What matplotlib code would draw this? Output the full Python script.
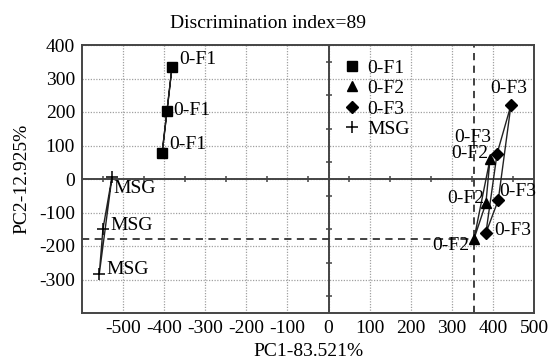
import numpy as np
import matplotlib
matplotlib.use("Agg")
import matplotlib.pyplot as plt

plt.rcParams['font.family'] = ['Liberation Serif', 'DejaVu Serif']
plt.rcParams['font.size'] = 14
plt.rcParams['axes.unicode_minus'] = False

# ---- data (PC1, PC2) ----
f1_x = [-381, -393, -405]
f1_y = [334, 203, 78]
f2_x = [393, 383, 354]
f2_y = [60, -72, -179]
f3_x = [444, 410, 383, 413]
f3_y = [221, 75, -161, -63]
msg_x = [-527, -549, -558]
msg_y = [6, -149, -284]

group_names = ["0-F1", "0-F2", "0-F3", "MSG"]
ref_x = 354
ref_y = -179

title = "Discrimination index=89"
xlabel = "PC1-83.521%"
ylabel = "PC2-12.925%"
xticks = [-500, -400, -300, -200, -100, 0, 100, 200, 300, 400, 500]
yticks = [-300, -200, -100, 0, 100, 200, 300, 400]

FS = 14
W, H = 550, 360
fig = plt.figure(figsize=(W / 100, H / 100), dpi=100)
ax = fig.add_axes([82 / W, 1 - 313 / H, (534 - 82) / W, (313 - 45) / H])
ax.set_xlim(-600, 500)
ax.set_ylim(-400, 400)

# grid
for v in xticks:
    ax.axvline(v, color='#a0a0a0', lw=0.9, ls=(0, (1, 1.2)), zorder=0)
for v in yticks:
    ax.axhline(v, color='#a0a0a0', lw=0.9, ls=(0, (1, 1.2)), zorder=0)

# centre axes
ax.axhline(0, color='#444444', lw=1.4, zorder=1)
ax.axvline(0, color='#444444', lw=1.4, zorder=1)
mx = [v for v in range(-550, 500, 100)]
my = [v for v in range(-350, 400, 100)]
ax.plot(mx, [0] * len(mx), ls='none', marker='|', ms=5, mew=1.1, color='#444444', zorder=1)
ax.plot([0] * len(my), my, ls='none', marker='_', ms=5, mew=1.1, color='#444444', zorder=1)

# reference dashed lines
ax.plot([-600, ref_x], [ref_y, ref_y], color='#333333', lw=1.3, ls=(0, (4, 3)), zorder=2)
ax.axvline(ref_x, color='#333333', lw=1.3, ls=(0, (4, 3)), zorder=2)

def poly(xs, ys, order):
    px = [xs[i] for i in order] + [xs[order[0]]]
    py = [ys[i] for i in order] + [ys[order[0]]]
    ax.plot(px, py, color='#222222', lw=1.0, zorder=3)

poly(f1_x, f1_y, [0, 1, 2])
poly(f2_x, f2_y, [0, 1, 2])
poly(f3_x, f3_y, [0, 1, 2, 3])
poly(msg_x, msg_y, [0, 1, 2])

h1, = ax.plot(f1_x, f1_y, ls='none', marker='s', ms=7, color='black', zorder=4)
h2, = ax.plot(f2_x, f2_y, ls='none', marker='^', ms=7, color='black', zorder=4)
h3, = ax.plot(f3_x, f3_y, ls='none', marker='D', ms=6.5, color='black', zorder=4)
h4, = ax.plot(msg_x, msg_y, ls='none', marker='+', ms=9, mew=1.1, color='black', zorder=4)

# point labels (offsets in pixels)
def lab(x, y, txt, dx, dy, ha):
    ax.annotate(txt, (x, y), xytext=(dx, dy), textcoords='offset pixels',
                ha=ha, va='center', fontsize=FS, zorder=5)

lab(f1_x[0], f1_y[0], "0-F1", 7, 8, 'left')
lab(f1_x[1], f1_y[1], "0-F1", 6, 0, 'left')
lab(f1_x[2], f1_y[2], "0-F1", 7, 8, 'left')
lab(msg_x[0], msg_y[0], "MSG", 1, -12, 'left')
lab(msg_x[1], msg_y[1], "MSG", 7, 3, 'left')
lab(msg_x[2], msg_y[2], "MSG", 7, 5, 'left')
lab(f2_x[0], f2_y[0], "0-F2", -2, 5, 'right')
lab(f2_x[1], f2_y[1], "0-F2", -2, 5, 'right')
lab(f2_x[2], f2_y[2], "0-F2", -5, -7, 'right')
lab(f3_x[0], f3_y[0], "0-F3", -2, 16, 'center')
lab(f3_x[1], f3_y[1], "0-F3", -6, 16, 'right')
lab(f3_x[2], f3_y[2], "0-F3", 8, 2, 'left')
lab(f3_x[3], f3_y[3], "0-F3", 1, 9, 'left')

ax.set_xticks(xticks)
ax.set_yticks(yticks)
ax.tick_params(length=0, pad=5, labelsize=FS)
for s in ax.spines.values():
    s.set_color('#444444')
    s.set_linewidth(1.4)

leg = ax.legend([h1, h2, h3, h4], group_names, loc='upper left',
                bbox_to_anchor=((345 - 82) / (534 - 82), (313 - 59) / (313 - 45)),
                frameon=False, handlelength=0.75, handletextpad=0.4,
                labelspacing=0.15, borderpad=0, borderaxespad=0, fontsize=FS)

fig.text(268 / W, 1 - 24 / H, title, ha='center', va='center', fontsize=FS)
fig.text(308 / W, 1 - 351 / H, xlabel, ha='center', va='center', fontsize=FS)
fig.text(22 / W, 1 - 179 / H, ylabel, ha='center', va='center', rotation=90, fontsize=FS)

fig.savefig("out.png", dpi=100)
